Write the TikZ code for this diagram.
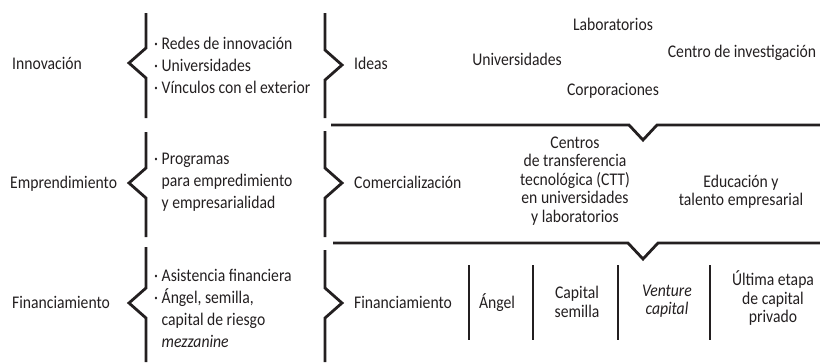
\documentclass[tikz,border=0pt]{standalone}
\usepackage{fontspec}
\setmainfont{Carlito}[FakeStretch=0.88]
\usetikzlibrary{positioning}
\definecolor{inkblack}{RGB}{35,31,32}

\begin{document}
\begin{tikzpicture}[
    x=1pt, y=-1pt,
    every node/.style={font=\fontsize{17.8}{18.5}\selectfont, text=inkblack, inner sep=0pt},
    rowlabel/.style={anchor=base west},
    bullets/.style={anchor=west, align=left, font=\fontsize{17.8}{22}\selectfont},
    source/.style={anchor=base},
    stage/.style={align=center},
    bracket/.style={draw=inkblack, line width=2.8pt, line join=miter},
    divider/.style={draw=inkblack, line width=2.8pt}
]
\useasboundingbox (0,0) rectangle (820,362);

% Row labels
\node[rowlabel] (innov) at (12,69) {Innovación};
\node[rowlabel] (empre) at (10,188) {Emprendimiento};
\node[rowlabel] (finan) at (12,308) {Financiamiento};

% Left brackets
\foreach \top/\tip/\bot in {13/63/118, 132/183/237, 247/303/362}
    \draw[bracket] (146,\top) -- (146,\tip-15) -- (129,\tip) -- (146,\tip+15) -- (146,\bot);

% Bullet lists
\node[bullets] (innovlist) at (154,65) {· Redes de innovación\\· Universidades\\· Vínculos con el exterior};
\node[bullets] (emprelist) at (154,182) {· Programas\\\hphantom{· }para empredimiento\\\hphantom{· }y empresarialidad};
\node[bullets] (finanlist) at (154,308) {· Asistencia financiera\\· Ángel, semilla,\\\hphantom{· }capital de riesgo\\\hphantom{· }\textit{mezzanine}};

% Right brackets
\foreach \top/\tip/\bot in {13/65/118, 131/183/237, 250/303/362}
    \draw[bracket] (325,\top) -- (325,\tip-15) -- (342,\tip) -- (325,\tip+15) -- (325,\bot);

% Ideas row
\node[rowlabel] (ideas) at (354,69) {Ideas};
\node[source] (labs) at (613,30) {Laboratorios};
\node[source] (univ) at (517,65) {Universidades};
\node[source] (centro) at (742,57) {Centro de investigación};
\node[source] (corp) at (613,95) {Corporaciones};

% Separators with notch
\draw[bracket] (331,125) -- (629,125) -- (643,140) -- (657,125) -- (820,125);
\draw[bracket] (333,243) -- (628,243) -- (643,259) -- (658,243) -- (820,243);

% Comercialization row
\node[rowlabel] (comer) at (354,188) {Comercialización};
\node[stage] (ctt) at (575,181) {Centros\\de transferencia\\tecnológica (CTT)\\en universidades\\y laboratorios};
\node[stage] (talento) at (741,192) {Educación y\\talento empresarial};

% Financing row
\node[rowlabel] (finstage) at (354,308) {Financiamiento};
\node[source] (angel) at (497,308) {Ángel};
\node[stage] (semilla) at (577,302) {Capital\\semilla};
\node[stage] (venture) at (667,301) {\textit{Venture}\\\textit{capital}};
\node[stage] (privado) at (773,298) {Última etapa\\de capital\\privado};
\foreach \x in {469,533,618,710}
    \draw[divider] (\x,265) -- (\x,340);

\end{tikzpicture}
\end{document}
